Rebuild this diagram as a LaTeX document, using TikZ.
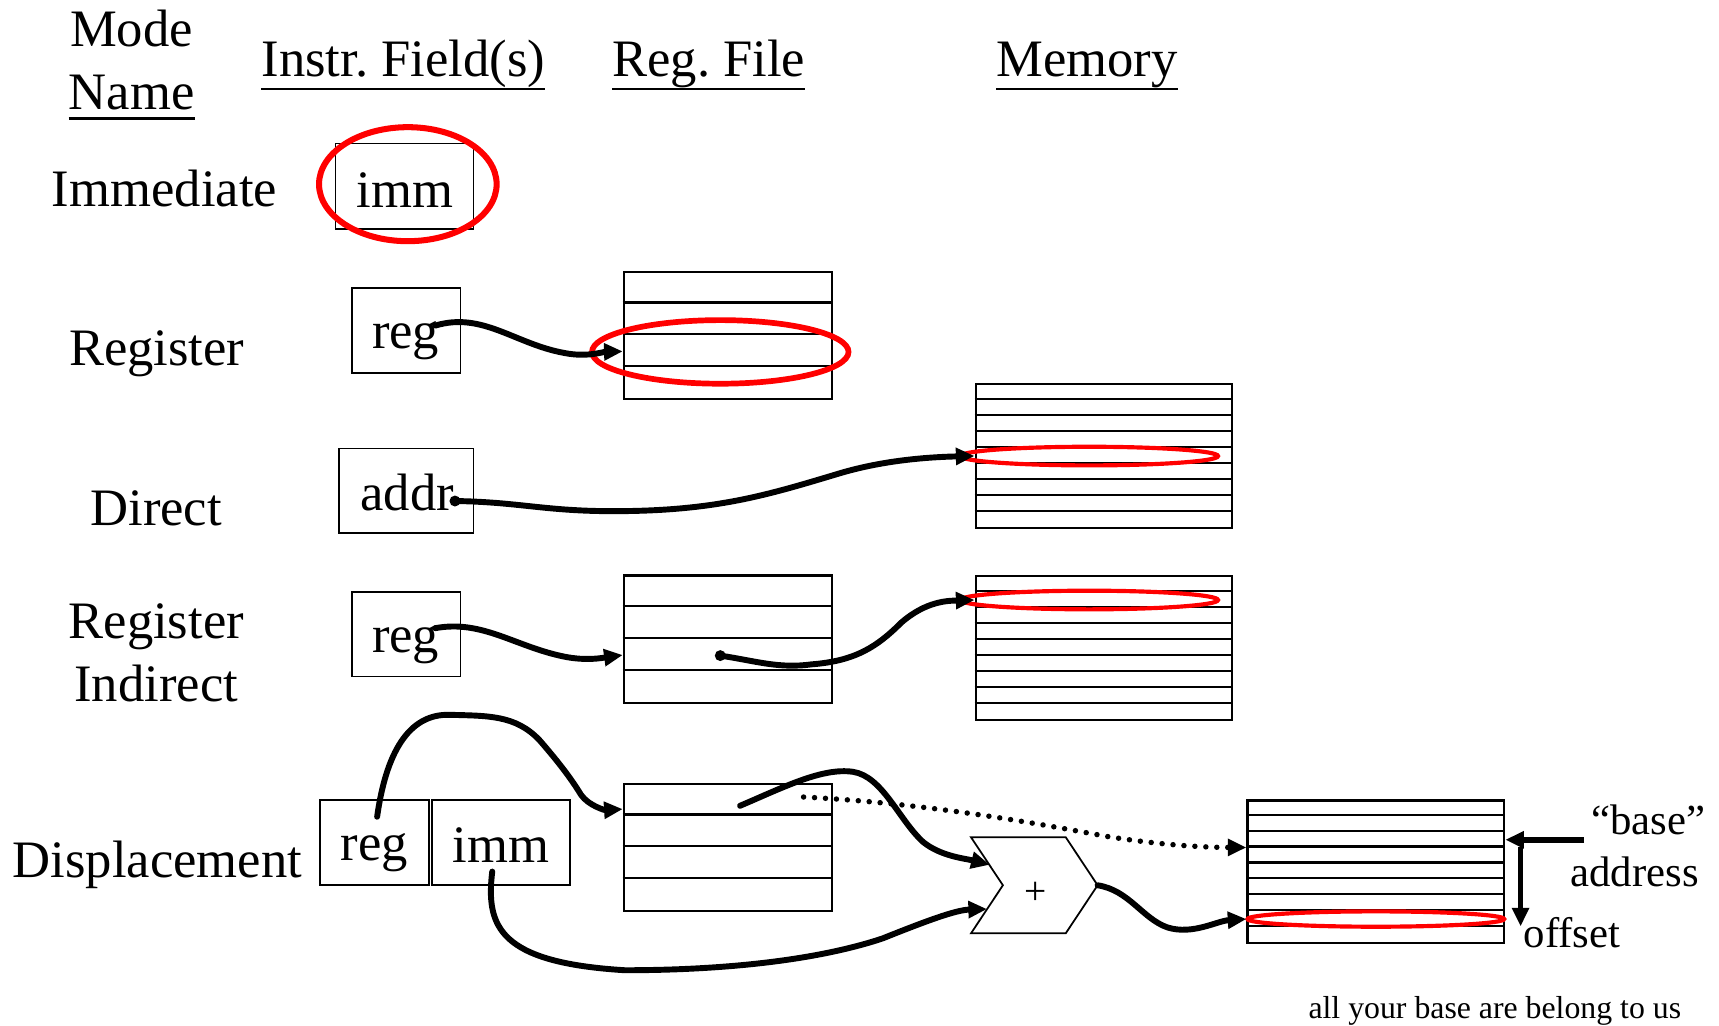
\documentclass[tikz,border=0pt]{standalone}
\usepackage{fontspec}
\setmainfont{Liberation Serif}
\usetikzlibrary{arrows.meta}
\begin{document}
\frenchspacing
\begin{tikzpicture}[x=1pt,y=-1pt,
  lbl/.style={inner sep=0pt, anchor=base, font=\fontsize{48}{48}\selectfont},
  smalllbl/.style={inner sep=0pt, anchor=base, font=\fontsize{39}{39}\selectfont},
  fieldbox/.style={draw, line width=1.6pt, inner sep=0pt},
  stackbox/.style={draw, line width=2pt, inner sep=0pt, minimum width=190pt, minimum height=116pt},
  membox/.style={draw, line width=2.2pt, inner sep=0pt, minimum width=234pt},
  hl/.style={draw=red},
  tip/.style={-{Triangle[length=17pt,width=15pt]}},
  wire/.style={line width=5.4pt, line cap=round, tip},
  dotwire/.style={line width=5pt, line cap=round, dash pattern=on 0pt off 10pt, tip},
  ulin/.style={line width=2.2pt},
]
\useasboundingbox (0,0) rectangle (1568,935);

% headers
\node[lbl] (mode) at (120,42) {Mode};
\node[lbl] (name) at (120,100) {Name};
\node[lbl] (hinstr) at (368,70) {Instr. Field(s)};
\node[lbl] (hreg) at (646.5,70) {Reg. File};
\node[lbl] (hmem) at (991.5,70) {Memory};
\foreach \n/\d in {name/8pt, hinstr/11pt, hreg/11pt, hmem/11pt}
  \draw[ulin] ([yshift=-\d]\n.base west) -- ([yshift=-\d]\n.base east);

% row labels
\node[lbl] (lImm) at (150,188) {Immediate};
\node[lbl] (lReg) at (143,333) {Register};
\node[lbl] (lDir) at (142.5,479) {Direct};
\node[lbl] (lRI1) at (142.5,582) {Register};
\node[lbl] (lRI2) at (142.5,640) {Indirect};
\node[lbl] (lDisp) at (143.5,800) {Displacement};

% instruction field boxes
\node[fieldbox, minimum width=126pt, minimum height=78pt] (immA) at (369,170) {};
\node[lbl] (immAt) at (369.5,189) {imm};
\node[fieldbox, minimum width=99pt, minimum height=77pt] (regA) at (370.5,301.5) {};
\node[lbl] (regAt) at (370,318) {reg};
\node[fieldbox, minimum width=123pt, minimum height=77pt] (addrA) at (370.5,447.5) {};
\node[lbl] (addrAt) at (371.5,466) {addr};
\node[fieldbox, minimum width=99pt, minimum height=77pt] (regB) at (370.5,578.5) {};
\node[lbl] (regBt) at (370,595) {reg};
\node[fieldbox, minimum width=99pt, minimum height=77pt] (regC) at (341.5,768.5) {};
\node[lbl] (regCt) at (341.5,785) {reg};
\node[fieldbox, minimum width=126pt, minimum height=77pt] (immC) at (457,768.5) {};
\node[lbl] (immCt) at (457,787) {imm};

% register files
\node[stackbox] (rfA) at (664,306) {};
\node[stackbox] (rfB) at (664,583) {};
\node[stackbox] (rfC) at (664,773) {};
\foreach \r in {rfA,rfB,rfC}
  \foreach \i in {1,2,3}
    \draw[line width=2pt] ([yshift=-\i*29pt]\r.north west) -- ([yshift=-\i*29pt]\r.north east);

% memories
\node[membox, minimum height=131.4pt] (memA) at (1007,415.9) {};
\node[membox, minimum height=131.4pt] (memB) at (1007,591.1) {};
\node[membox, minimum height=130pt] (memC) at (1255,795) {};
\foreach \r/\h in {memA/14.6pt, memB/14.6pt, memC/14.444pt}
  \foreach \i in {1,...,8}
    \draw[line width=2.2pt] ([yshift=-\i*\h]\r.north west) -- ([yshift=-\i*\h]\r.north east);

% adder
\node[inner sep=0pt, minimum width=115pt, minimum height=87pt] (adder) at (943.5,807.5) {};
\draw[line width=1.6pt] (adder.north west) -- ([xshift=-29pt]adder.north east) -- (adder.east)
  -- ([xshift=-29pt]adder.south east) -- (adder.south west) -- ([xshift=29pt]adder.west) -- cycle;
\node[inner sep=0pt, anchor=base, font=\fontsize{36}{36}\selectfont] (plus) at (945,825) {+};
\coordinate (adin1) at ([xshift=17pt,yshift=-25pt]adder.north west);
\coordinate (adin2) at ([xshift=14.5pt,yshift=22pt]adder.south west);

% red highlights
\draw[hl, line width=5.5pt] (372,168) ellipse [x radius=81pt, y radius=52pt];
\draw[hl, line width=5.2pt] (657,321) ellipse [x radius=117pt, y radius=29pt];
\draw[hl, line width=3.8pt] (993.5,416) ellipse [x radius=117.5pt, y radius=8.5pt];
\draw[hl, line width=3.8pt] (993.5,547.3) ellipse [x radius=117.5pt, y radius=8.5pt];
\draw[hl, line width=3.8pt] (1255,838.3) ellipse [x radius=117pt, y radius=7pt];

% start points
\coordinate (sA) at (397,297);
\coordinate (sB) at (415,457);
\coordinate (sC) at (397,573);
\coordinate (sD) at (657,598);
\coordinate (sE) at (344,745);
\coordinate (sF) at (675,735);
\coordinate (sG) at (449,795);
\coordinate (sH) at (733,727);
\coordinate (baseS) at (1445,766);
\coordinate (offS) at (1387,773);
\coordinate (offE) at (1387,845);

% connectors
\draw[wire] (sA) .. controls (440,284) and (470,314) .. (515,322)
  .. controls (535,326) and (550,321) .. ([yshift=-14.5pt]rfA.west);
\draw[wire] (sB) .. controls (480,458) and (500,468) .. (580,466)
  .. controls (660,464) and (705,450) .. (765,432)
  .. controls (805,420) and (845,417) .. (memA.west);
\fill (sB) circle (5pt);
\draw[wire] (sC) .. controls (440,565) and (470,590) .. (515,599)
  .. controls (535,603) and (550,600) .. ([yshift=-14.5pt]rfB.west);
\draw[wire] (sD) .. controls (690,603) and (710,610) .. (740,606)
  .. controls (780,603) and (800,590) .. (822,568)
  .. controls (845,548) and (865,548) .. ([yshift=43.8pt]memB.west);
\fill (sD) circle (5pt);
\draw[wire] (sE) .. controls (352,688) and (372,651) .. (410,652)
  .. controls (445,653) and (470,652) .. (492,675)
  .. controls (512,698) and (522,712) .. (530,725)
  .. controls (537,735) and (552,739) .. ([yshift=-24pt]rfC.north west);
\draw[wire] (sF) .. controls (715,718) and (750,700) .. (778,704)
  .. controls (805,708) and (820,748) .. (842,768)
  .. controls (858,781) and (880,783) .. (adin1);
\draw[wire] (sG) .. controls (443,845) and (455,878) .. (570,885)
  .. controls (660,885) and (745,876) .. (805,856)
  .. controls (845,840) and (872,830) .. (adin2);
\draw[wire] (adder.east) .. controls (1030,812) and (1042,838) .. (1065,846)
  .. controls (1088,853) and (1110,840) .. ([yshift=-43.3pt]memC.west);
\draw[dotwire] (sH) .. controls (850,733) and (950,752) .. (1010,763)
  .. controls (1060,771) and (1100,773) .. ([yshift=22pt]memC.west);
\draw[line width=5.2pt, tip] (baseS) -- ([yshift=29pt]memC.east);
\draw[line width=4.2pt, tip] (offS) -- (offE);

% right labels
\node[smalllbl] (tbase) at (1503.5,761) {``base''};
\node[smalllbl] (taddr) at (1491,809) {address};
\node[smalllbl] (toff) at (1434,864) {offset};
\node[inner sep=0pt, anchor=base, font=\fontsize{29}{29}\selectfont] (motto) at (1363.5,929) {all your base are belong to us};
\end{tikzpicture}
\end{document}
